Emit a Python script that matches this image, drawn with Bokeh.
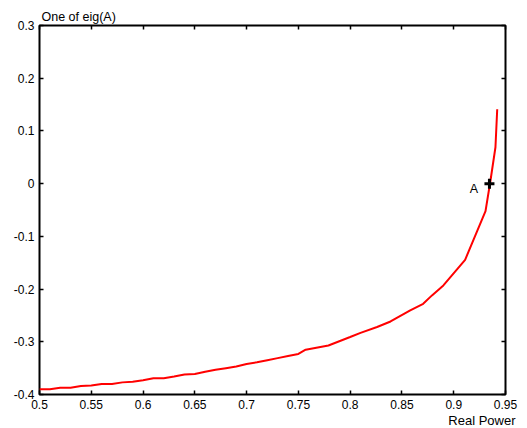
from bokeh.plotting import figure
from bokeh.models import Range1d, LinearAxis, FixedTicker, Title
from bokeh.core.properties import value
from bokeh.embed import file_html
from bokeh.resources import INLINE

# Data
real_power = [0.50, 0.51, 0.52, 0.53, 0.54, 0.55, 0.56, 0.57, 0.58, 0.59,
              0.60, 0.61, 0.62, 0.63, 0.64, 0.65, 0.66, 0.67, 0.68, 0.69,
              0.70, 0.71, 0.72, 0.73, 0.74, 0.75, 0.757, 0.779, 0.800, 0.810,
              0.826, 0.839, 0.858, 0.8705, 0.879, 0.890, 0.911, 0.9307,
              0.9355, 0.9403, 0.942]
eig_value = [-0.390, -0.390, -0.387, -0.387, -0.384, -0.383, -0.380, -0.380, -0.377, -0.376,
             -0.373, -0.369, -0.369, -0.366, -0.362, -0.361, -0.357, -0.353, -0.350, -0.347,
             -0.342, -0.339, -0.335, -0.331, -0.327, -0.323, -0.315, -0.307, -0.291, -0.283,
             -0.272, -0.2615, -0.2406, -0.228, -0.212, -0.193, -0.1445, -0.0523,
             0.006, 0.069, 0.141]

point_x = [0.9345]
point_y = [0.0]
point_label = ["A"]
label_x = [0.9194]
label_y = [-0.0097]

x_ticks = [0.5, 0.55, 0.6, 0.65, 0.7, 0.75, 0.8, 0.85, 0.9, 0.95]
x_tick_labels = ["0.5", "0.55", "0.6", "0.65", "0.7", "0.75", "0.8", "0.85", "0.9", "0.95"]
y_ticks = [-0.4, -0.3, -0.2, -0.1, 0.0, 0.1, 0.2, 0.3]
y_tick_labels = ["-0.4", "-0.3", "-0.2", "-0.1", "0", "0.1", "0.2", "0.3"]

title_text = "One of eig(A)"
xlabel_text = "Real Power"

FONT = "Liberation Sans"

p = figure(width=527, height=428, output_backend="svg", toolbar_location=None,
           x_range=Range1d(0.5, 0.95), y_range=Range1d(-0.4, 0.3),
           x_axis_location=None, y_axis_location=None,
           min_border_left=39, min_border_right=22, min_border_top=25, min_border_bottom=34)
p.xgrid.visible = False
p.ygrid.visible = False
p.outline_line_color = "black"
p.outline_line_width = 2
p.background_fill_color = "white"
p.border_fill_color = "white"


def style_axis(ax, ticks, labels, show):
    ax.ticker = FixedTicker(ticks=ticks)
    ax.major_label_overrides = {t: (l if show else "") for t, l in zip(ticks, labels)}
    ax.axis_line_color = None
    ax.major_tick_in = 4
    ax.major_tick_out = 0
    ax.major_tick_line_width = 1.5
    ax.major_tick_line_color = "black"
    ax.minor_tick_line_color = None
    ax.major_label_text_font = FONT
    ax.major_label_text_font_size = "12px"
    ax.major_label_text_color = "black"


bottom = LinearAxis()
style_axis(bottom, x_ticks, x_tick_labels, True)
bottom.major_label_standoff = 5
p.add_layout(bottom, "below")

top = LinearAxis()
style_axis(top, x_ticks, x_tick_labels, False)
top.major_label_standoff = 0
p.add_layout(top, "above")

left = LinearAxis()
style_axis(left, y_ticks, y_tick_labels, True)
left.major_label_standoff = 5
p.add_layout(left, "left")

right = LinearAxis()
style_axis(right, y_ticks, y_tick_labels, False)
right.major_label_standoff = 0
p.add_layout(right, "right")

p.line(real_power, eig_value, line_color="red", line_width=2)
p.scatter(point_x, point_y, marker="cross", size=10, line_width=3, color="black")
p.text(label_x, label_y, text=point_label, text_font=value(FONT), text_font_size="12.5px",
       text_align="center", text_baseline="middle", text_color="black")

top_title = Title(text=title_text, align="left", offset=2, standoff=3,
                  text_font=FONT, text_font_size="12.5px", text_font_style="normal",
                  text_color="black")
p.add_layout(top_title, "above")

bottom_title = Title(text=xlabel_text, align="right", offset=-10, standoff=-2,
                     text_font=FONT, text_font_size="13px", text_font_style="normal",
                     text_color="black")
p.add_layout(bottom_title, "below")

open("out.html", "w").write(file_html(p, INLINE))
